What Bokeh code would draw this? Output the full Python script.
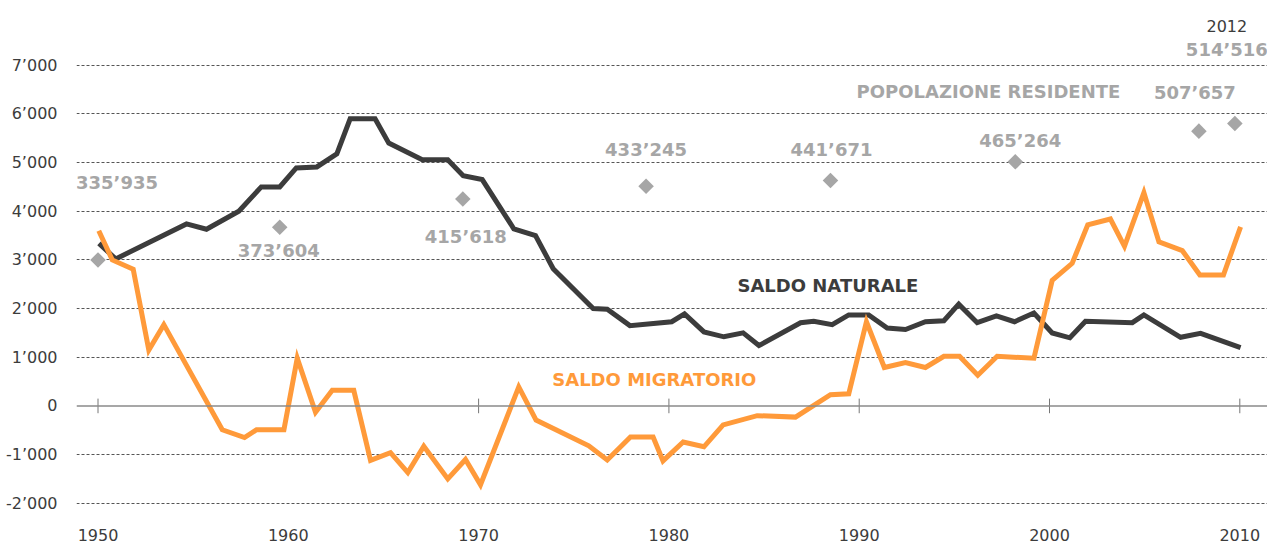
from bokeh.plotting import figure
from bokeh.models import FixedTicker, Span, Range1d, Label
from bokeh.embed import file_html
from bokeh.resources import INLINE

# ---- data ----
nat_years = [1950.05, 1950.93, 1954.65, 1955.70, 1957.40, 1958.58, 1959.55, 1960.42, 1961.50,
             1962.55, 1963.25, 1964.56, 1965.28, 1967.04, 1968.38, 1969.19, 1970.19, 1971.85,
             1972.99, 1973.92, 1976.02, 1976.76, 1977.95, 1980.15, 1980.82, 1981.84, 1982.89,
             1983.90, 1984.73, 1986.92, 1987.61, 1988.58, 1989.45, 1990.50, 1991.47, 1992.43,
             1993.48, 1994.45, 1995.23, 1996.20, 1997.21, 1998.16, 1999.18, 2000.14, 2001.07,
             2001.89, 2004.35, 2004.96, 2006.89, 2007.94, 2010.04]
nat_values = [3340, 3020, 3740, 3630, 4000, 4500, 4500, 4890, 4910,
              5180, 5900, 5900, 5400, 5060, 5060, 4730, 4650, 3640,
              3500, 2820, 2000, 1985, 1650, 1730, 1890, 1520, 1420,
              1500, 1240, 1710, 1740, 1670, 1870, 1870, 1600, 1570,
              1730, 1750, 2090, 1710, 1850, 1730, 1910, 1500, 1400,
              1740, 1710, 1870, 1410, 1490, 1200]

mig_years = [1950.04, 1950.75, 1951.85, 1952.67, 1953.46, 1956.53, 1957.70, 1958.33, 1959.77,
             1960.47, 1961.43, 1962.31, 1963.44, 1964.32, 1965.37, 1966.28, 1967.12, 1968.38,
             1969.31, 1970.10, 1972.11, 1973.02, 1975.79, 1976.76, 1977.98, 1979.17, 1979.69,
             1980.75, 1981.84, 1982.85, 1984.64, 1986.65, 1988.49, 1989.45, 1990.38, 1991.32,
             1992.43, 1993.48, 1994.45, 1995.27, 1996.23, 1997.25, 1999.18, 2000.14, 2001.19,
             2002.01, 2003.20, 2003.94, 2004.96, 2005.75, 2006.98, 2007.90, 2009.14, 2010.04]
mig_values = [3600, 3000, 2810, 1150, 1670, -490, -650, -490, -490,
              980, -130, 320, 320, -1120, -960, -1370, -830, -1500,
              -1100, -1620, 390, -290, -820, -1110, -640, -640, -1130,
              -740, -840, -390, -200, -230, 230, 250, 1730, 790,
              890, 790, 1020, 1020, 630, 1020, 980, 2580, 2930,
              3720, 3840, 3280, 4380, 3370, 3190, 2690, 2690, 3680]

pop_years = [1950.0, 1959.55, 1969.17, 1978.8, 1988.49, 1998.2, 2007.85, 2009.74]
pop_marker_values = [3000, 3670, 4253, 4514, 4631, 5015, 5646, 5804]
pop_labels = ["335’935", "373’604", "415’618", "433’245", "441’671", "465’264", "507’657", "514’516"]

y_ticks = [-2000, -1000, 0, 1000, 2000, 3000, 4000, 5000, 6000, 7000]
y_tick_labels = ["-2’000", "-1’000", "0", "1’000", "2’000", "3’000", "4’000", "5’000", "6’000", "7’000"]
x_ticks = [1950, 1960, 1970, 1980, 1990, 2000, 2010]

# ---- styling / layout ----
ORANGE = "#ff9a3a"
DARK = "#3c3c3c"
GREY = "#a6a6a6"
FONT = "DejaVu Sans"

p = figure(width=1267, height=543, output_backend="svg", toolbar_location=None,
           x_range=Range1d(1948.87, 2011.455), y_range=Range1d(-2313, 8330),
           min_border_left=76, min_border_right=0, min_border_top=0, min_border_bottom=23)
p.outline_line_color = None
p.background_fill_color = "white"
p.border_fill_color = "white"

# axes
p.yaxis.ticker = FixedTicker(ticks=y_ticks)
p.yaxis.major_label_overrides = {t: l for t, l in zip(y_ticks, y_tick_labels)}
p.yaxis.axis_line_color = None
p.yaxis.major_tick_line_color = None
p.yaxis.minor_tick_line_color = None
p.yaxis.major_label_standoff = 13
p.yaxis.major_label_text_font = FONT
p.yaxis.major_label_text_font_size = "16px"
p.yaxis.major_label_text_color = DARK

p.xaxis.ticker = FixedTicker(ticks=x_ticks)
p.xaxis.axis_line_color = None
p.xaxis.major_tick_line_color = None
p.xaxis.minor_tick_line_color = None
p.xaxis.major_label_standoff = 4
p.xaxis.major_label_text_font = FONT
p.xaxis.major_label_text_font_size = "16px"
p.xaxis.major_label_text_color = DARK

p.xgrid.grid_line_color = None
p.ygrid.ticker = FixedTicker(ticks=[t for t in y_ticks if t != 0])
p.ygrid.grid_line_color = "#555555"
p.ygrid.grid_line_dash = "3 2"
p.ygrid.grid_line_width = 1

# zero line with decade ticks
p.add_layout(Span(location=0, dimension="width", line_color="#8a8a8a", line_width=1.5))
p.segment(x0=x_ticks, y0=[-150] * len(x_ticks), x1=x_ticks, y1=[150] * len(x_ticks),
          line_color="#777777", line_width=1)

# series
p.line(nat_years, nat_values, line_color=DARK, line_width=5, line_join="miter")
p.line(mig_years, mig_values, line_color=ORANGE, line_width=5, line_join="miter")

# population markers
p.scatter(pop_years, pop_marker_values, marker="square", size=11, angle=0.785398,
          fill_color=GREY, line_color=None)

# population labels (offsets in screen pixels, positive = up)
label_dx = [19, -1, 3, 0, 1, 5, -4, -8]
label_dy = [77, -23, -38, 37, 31, 21, 39, 74]
for xv, yv, t, dx, dy in zip(pop_years, pop_marker_values, pop_labels, label_dx, label_dy):
    p.add_layout(Label(x=xv, y=yv, text=t, x_offset=dx, y_offset=dy,
                       text_font=FONT, text_font_style="bold", text_font_size="18px",
                       text_color=GREY, text_align="center", text_baseline="middle"))

p.add_layout(Label(x=pop_years[-1], y=pop_marker_values[-1], text="2012", x_offset=-8, y_offset=97,
                   text_font=FONT, text_font_size="16px", text_color=DARK,
                   text_align="center", text_baseline="middle"))

p.add_layout(Label(x=1989.86, y=6451, text="POPOLAZIONE RESIDENTE",
                   text_font=FONT, text_font_style="bold", text_font_size="18px",
                   text_color=GREY, text_align="left", text_baseline="middle"))
p.add_layout(Label(x=1983.6, y=2476, text="SALDO NATURALE",
                   text_font=FONT, text_font_style="bold", text_font_size="18px",
                   text_color=DARK, text_align="left", text_baseline="middle"))
p.add_layout(Label(x=1973.87, y=546, text="SALDO MIGRATORIO",
                   text_font=FONT, text_font_style="bold", text_font_size="18px",
                   text_color=ORANGE, text_align="left", text_baseline="middle"))

open("out.html", "w").write(file_html(p, INLINE))
